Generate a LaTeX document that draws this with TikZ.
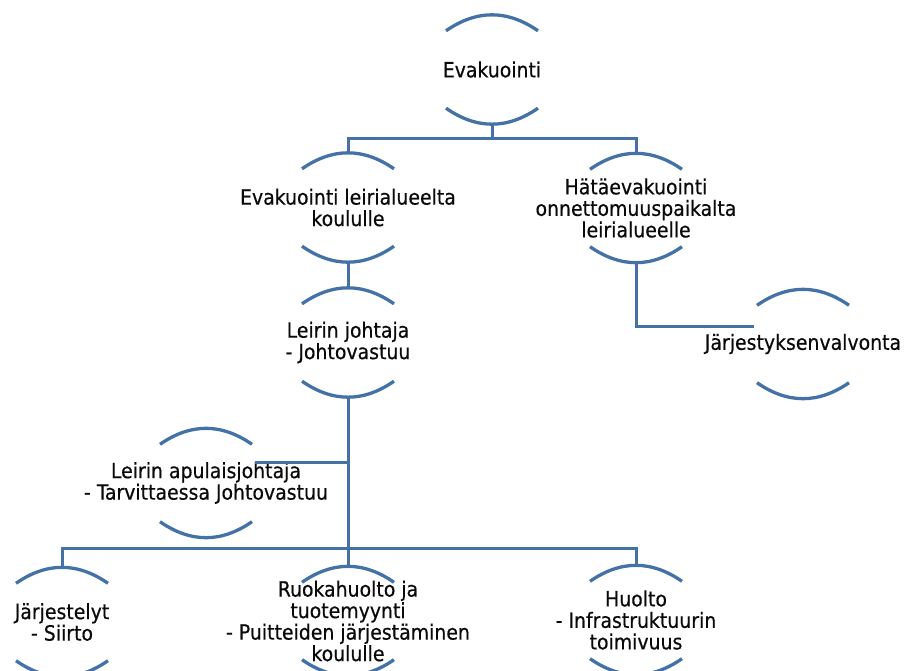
\documentclass[tikz,border=0pt]{standalone}
\usepackage{fontspec}
\setmainfont[FakeBold=0.5]{DejaVu Sans Condensed}
\usetikzlibrary{calc}
\definecolor{linkblue}{RGB}{68,114,166}
\definecolor{txt}{RGB}{10,10,10}

% two shallow arcs above and below a unit: the ring outline
\newcommand\ringarcs[1]{%
  \draw[ring] ($(#1.north)+(-46,16)$) .. controls ($(#1.north)+(-15.3,-5.3)$) and ($(#1.north)+(15.3,-5.3)$) .. ($(#1.north)+(46,16)$);
  \draw[ring] ($(#1.south)+(-46,-16)$) .. controls ($(#1.south)+(-15.3,5.3)$) and ($(#1.south)+(15.3,5.3)$) .. ($(#1.south)+(46,-16)$);}

\begin{document}
\begin{tikzpicture}[x=1pt,y=-1pt,
  unit/.style={rectangle, minimum height=109pt, inner sep=0pt, align=center,
    text=txt, font=\fontsize{21}{21.5}\selectfont},
  ring/.style={draw=linkblue, line width=3.3pt},
  link/.style={draw=linkblue, line width=3pt, line join=miter}]
\path[use as bounding box] (0,0) rectangle (904,670);

% units
\node[unit] (ev)   at (492,69.5)  {Evakuointi};
\node[unit] (eva)  at (348,207.5) {Evakuointi leirialueelta\\koululle};
\node[unit] (hata) at (636,208)   {Hätäevakuointi\\onnettomuuspaikalta\\leirialueelle};
\node[unit] (lj)   at (348,342.5) {Leirin johtaja\\- Johtovastuu};
\node[unit] (jv)   at (803,344)   {Järjestyksenvalvonta};
\node[unit] (apu)  at (206,483)   {Leirin apulaisjohtaja\\- Tarvittaessa Johtovastuu};
\node[unit] (jar)  at (62,622)    {Järjestelyt\\- Siirto};
\node[unit] (ruo)  at (348,621)   {Ruokahuolto ja\\tuotemyynti\\- Puitteiden järjestäminen\\koululle};
\node[unit] (huo)  at (636,620)   {Huolto\\- Infrastruktuurin\\toimivuus};

\foreach \n in {ev,eva,hata,lj,jv,apu,jar,ruo,huo} {\ringarcs{\n}}

% junction points of the connectors
\coordinate (b1) at (492,138);
\coordinate (b2) at (348,548);
\coordinate (jvin) at (754,326);
\coordinate (apuin) at (255,462);

% connectors
\draw[link] (ev.south) -- (b1);
\draw[link] (eva.north) -- (eva.north |- b1) -- (hata.north |- b1) -- (hata.north);
\draw[link] (eva.south) -- (lj.north);
\draw[link] (hata.south) |- (jvin);
\draw[link] (lj.south) -- (ruo.north);
\draw[link] (apuin) -- (apuin -| lj.south);
\draw[link] (jar.north) -- (jar.north |- b2) -- (huo.north |- b2) -- (huo.north);
\end{tikzpicture}
\end{document}
